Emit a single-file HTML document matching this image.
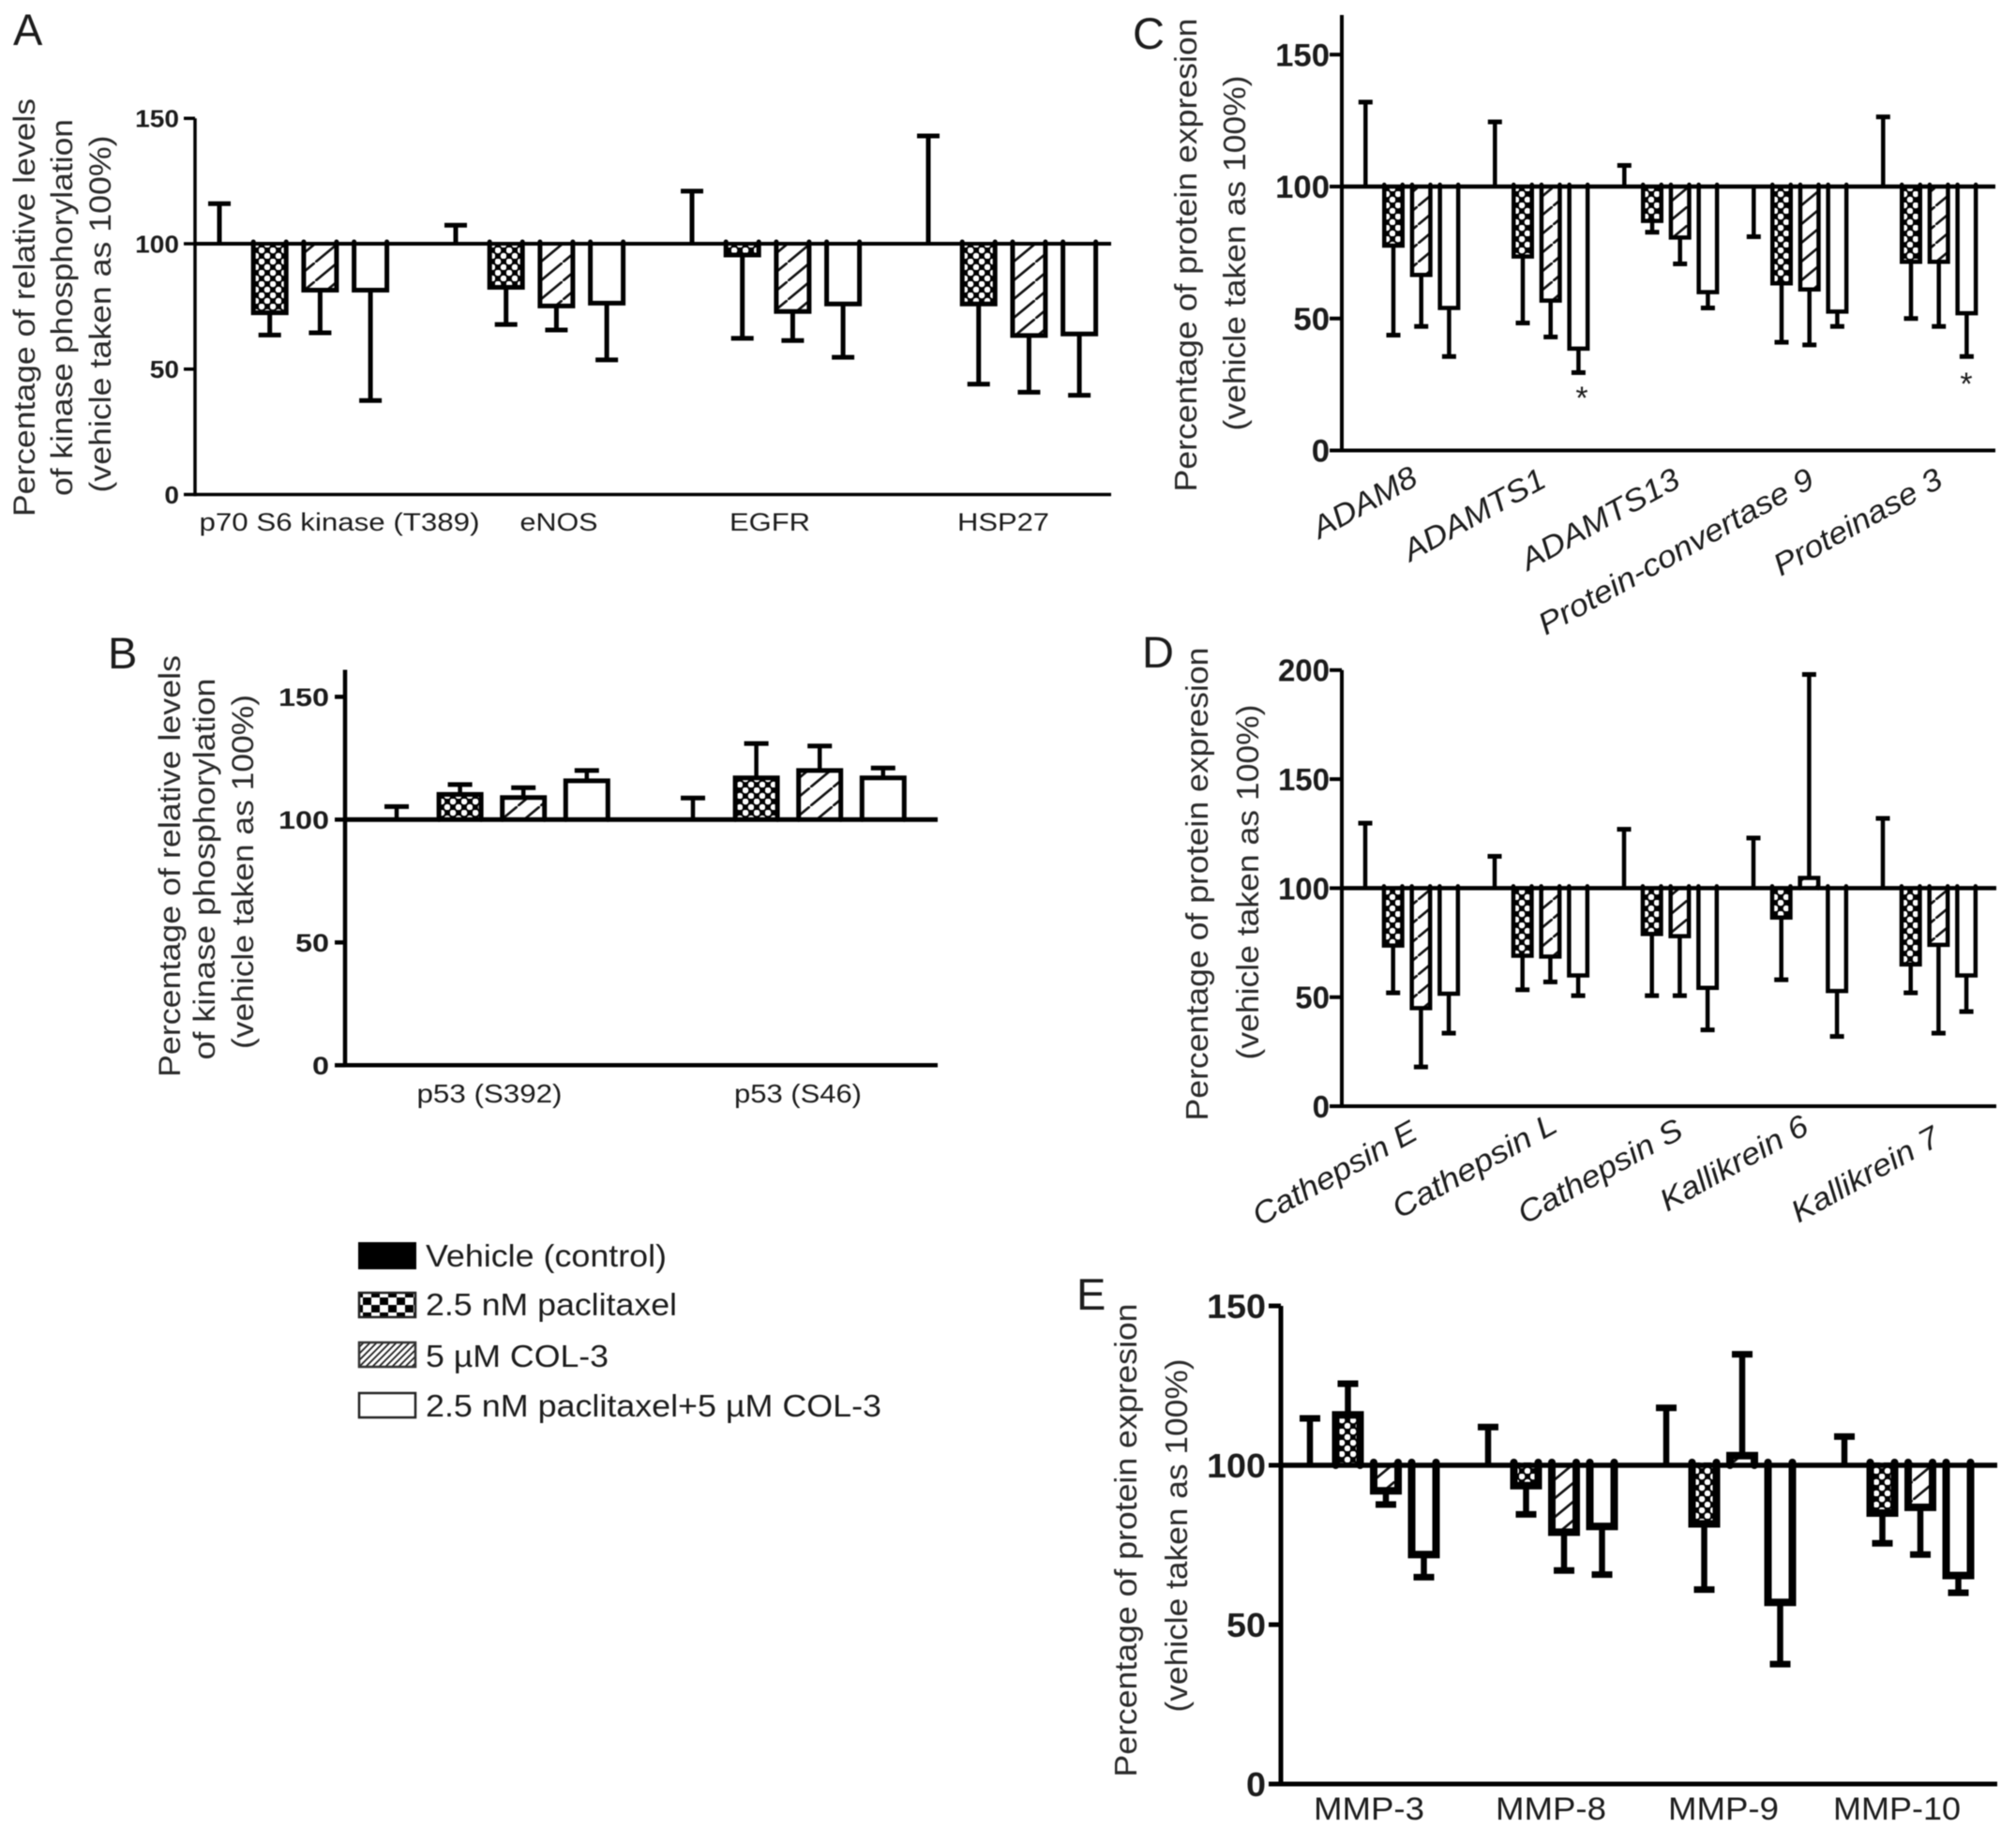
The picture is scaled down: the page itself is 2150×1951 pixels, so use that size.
<!DOCTYPE html>
<html lang="en">
<head>
<meta charset="utf-8">
<title>Protein expression and kinase phosphorylation bar charts</title>
<style>
html,body{margin:0;padding:0;background:#fff;width:2150px;height:1951px;overflow:hidden}
svg{display:block;filter:blur(0.6px)}
text{font-family:"Liberation Sans",Arial,sans-serif;fill:#1c1c1c}
.t{fill:#2a2a2a}
.letter{font-size:47px;fill:#1c1c1c}
</style>
</head>
<body>
<svg id="figure" width="2150" height="1951" viewBox="0 0 2150 1951" xmlns="http://www.w3.org/2000/svg">
<defs>
<pattern id="pat-check" width="12" height="12" patternUnits="userSpaceOnUse"><rect width="12" height="12" fill="#000"/><circle cx="3" cy="3" r="3.3" fill="#fff"/><circle cx="9" cy="9" r="3.3" fill="#fff"/></pattern>
<pattern id="pat-hatch" width="24" height="20" patternUnits="userSpaceOnUse"><rect width="24" height="20" fill="#fff"/><path d="M-2.4 22L26.4 -2" stroke="#111" stroke-width="2.6" fill="none"/></pattern>
<pattern id="pat-legend-check" width="18" height="16" patternUnits="userSpaceOnUse"><rect width="18" height="16" fill="#fff"/><rect width="9" height="8" fill="#000"/><rect x="9" y="8" width="9" height="8" fill="#000"/></pattern>
<pattern id="pat-legend-hatch" width="7" height="7" patternUnits="userSpaceOnUse"><rect width="7" height="7" fill="#fff"/><path d="M-1 8L8 -1M-3 3L3 -3M4 10L10 4" stroke="#222" stroke-width="1.8" fill="none"/></pattern>
</defs>

<rect width="2150" height="1951" fill="#fff"/>

<text class="letter" x="14" y="48">A</text>
<text class="letter" x="115" y="713">B</text>
<text class="letter" x="1208" y="52">C</text>
<text class="letter" x="1218" y="712">D</text>
<text class="letter" x="1148" y="1397">E</text>

<g font-size="32">
<text class="t" transform="translate(37,328) rotate(-90)" text-anchor="middle" textLength="446" lengthAdjust="spacingAndGlyphs">Percentage of relative levels</text>
<text class="t" transform="translate(77,328) rotate(-90)" text-anchor="middle" textLength="402" lengthAdjust="spacingAndGlyphs">of kinase phosphorylation</text>
<text class="t" transform="translate(118,335) rotate(-90)" text-anchor="middle" textLength="381" lengthAdjust="spacingAndGlyphs">(vehicle taken as 100%)</text>
</g>
<g font-size="32">
<text class="t" transform="translate(192,924) rotate(-90)" text-anchor="middle" textLength="450" lengthAdjust="spacingAndGlyphs">Percentage of relative levels</text>
<text class="t" transform="translate(229,927) rotate(-90)" text-anchor="middle" textLength="407" lengthAdjust="spacingAndGlyphs">of kinase phosphorylation</text>
<text class="t" transform="translate(270,930) rotate(-90)" text-anchor="middle" textLength="378" lengthAdjust="spacingAndGlyphs">(vehicle taken as 100%)</text>
</g>
<g font-size="33">
<text class="t" transform="translate(1276,272) rotate(-90)" text-anchor="middle" textLength="505" lengthAdjust="spacingAndGlyphs">Percentage of protein expresion</text>
<text class="t" transform="translate(1328,270) rotate(-90)" text-anchor="middle" textLength="379" lengthAdjust="spacingAndGlyphs">(vehicle taken as 100%)</text>
</g>
<g font-size="33">
<text class="t" transform="translate(1288,943) rotate(-90)" text-anchor="middle" textLength="505" lengthAdjust="spacingAndGlyphs">Percentage of protein expresion</text>
<text class="t" transform="translate(1342,941) rotate(-90)" text-anchor="middle" textLength="379" lengthAdjust="spacingAndGlyphs">(vehicle taken as 100%)</text>
</g>
<g font-size="33">
<text class="t" transform="translate(1212,1643) rotate(-90)" text-anchor="middle" textLength="505" lengthAdjust="spacingAndGlyphs">Percentage of protein expresion</text>
<text class="t" transform="translate(1266,1638) rotate(-90)" text-anchor="middle" textLength="377" lengthAdjust="spacingAndGlyphs">(vehicle taken as 100%)</text>
</g>

<g font-size="27">
<text x="362" y="566" text-anchor="middle" textLength="299" lengthAdjust="spacingAndGlyphs">p70 S6 kinase (T389)</text>
<text x="596" y="566" text-anchor="middle" textLength="83" lengthAdjust="spacingAndGlyphs">eNOS</text>
<text x="821" y="566" text-anchor="middle" textLength="86" lengthAdjust="spacingAndGlyphs">EGFR</text>
<text x="1070" y="566" text-anchor="middle" textLength="98" lengthAdjust="spacingAndGlyphs">HSP27</text>
</g>
<g font-size="28">
<text x="522" y="1176" text-anchor="middle" textLength="155" lengthAdjust="spacingAndGlyphs">p53 (S392)</text>
<text x="851" y="1176" text-anchor="middle" textLength="136" lengthAdjust="spacingAndGlyphs">p53 (S46)</text>
</g>
<g font-size="33" font-style="italic">
<text transform="translate(1514,516) rotate(-29)" text-anchor="end" textLength="122" lengthAdjust="spacingAndGlyphs">ADAM8</text>
<text transform="translate(1651,518) rotate(-29)" text-anchor="end" textLength="168" lengthAdjust="spacingAndGlyphs">ADAMTS1</text>
<text transform="translate(1794,518) rotate(-29)" text-anchor="end" textLength="188" lengthAdjust="spacingAndGlyphs">ADAMTS13</text>
<text transform="translate(1937,518) rotate(-29)" text-anchor="end" textLength="330" lengthAdjust="spacingAndGlyphs">Protein-convertase 9</text>
<text transform="translate(2074,518) rotate(-29)" text-anchor="end" textLength="200" lengthAdjust="spacingAndGlyphs">Proteinase 3</text>
</g>
<g font-size="33" font-style="italic">
<text transform="translate(1514,1214) rotate(-29)" text-anchor="end" textLength="195" lengthAdjust="spacingAndGlyphs">Cathepsin E</text>
<text transform="translate(1663,1206) rotate(-29)" text-anchor="end" textLength="195" lengthAdjust="spacingAndGlyphs">Cathepsin L</text>
<text transform="translate(1797,1212) rotate(-29)" text-anchor="end" textLength="195" lengthAdjust="spacingAndGlyphs">Cathepsin S</text>
<text transform="translate(1931,1208) rotate(-29)" text-anchor="end" textLength="175" lengthAdjust="spacingAndGlyphs">Kallikrein 6</text>
<text transform="translate(2071,1220) rotate(-29)" text-anchor="end" textLength="175" lengthAdjust="spacingAndGlyphs">Kallikrein 7</text>
</g>
<g font-size="34">
<text x="1460" y="1941" text-anchor="middle" textLength="118" lengthAdjust="spacingAndGlyphs">MMP-3</text>
<text x="1654" y="1941" text-anchor="middle" textLength="118" lengthAdjust="spacingAndGlyphs">MMP-8</text>
<text x="1838" y="1941" text-anchor="middle" textLength="118" lengthAdjust="spacingAndGlyphs">MMP-9</text>
<text x="2023" y="1941" text-anchor="middle" textLength="136" lengthAdjust="spacingAndGlyphs">MMP-10</text>
</g>

<text x="1687" y="436" font-size="34" text-anchor="middle">*</text>
<text x="2097" y="421" font-size="34" text-anchor="middle">*</text>

<g>
<g>
<rect x="383" y="1326" width="60" height="27" fill="#000" stroke="#000" stroke-width="2"/>
<text x="454" y="1351" font-size="33" textLength="257" lengthAdjust="spacingAndGlyphs">Vehicle (control)</text>
</g>
<g>
<rect x="383" y="1379" width="60" height="26" fill="url(#pat-legend-check)" stroke="#222" stroke-width="2.5"/>
<text x="454" y="1403" font-size="33" textLength="268" lengthAdjust="spacingAndGlyphs">2.5 nM paclitaxel</text>
</g>
<g>
<rect x="383" y="1432" width="60" height="26" fill="url(#pat-legend-hatch)" stroke="#333" stroke-width="2.5"/>
<text x="454" y="1458" font-size="33" textLength="195" lengthAdjust="spacingAndGlyphs">5 µM COL-3</text>
</g>
<g>
<rect x="383" y="1486" width="60" height="26" fill="#fff" stroke="#222" stroke-width="2.5"/>
<text x="454" y="1511" font-size="33" textLength="486" lengthAdjust="spacingAndGlyphs">2.5 nM paclitaxel+5 µM COL-3</text>
</g>
</g>
</svg>

<script>
const seriesNames = ['vehicle', 'paclitaxel', 'col3', 'combination'];

const panelACategories = ['p70-s6-kinase', 'enos', 'egfr', 'hsp27'];
const panelATicks = [0, 50, 100, 150];
const panelAVehicleMeans = [100, 100, 100, 100];
const panelAVehicleErrors = [116, 107.4, 121, 143];
const panelAPaclitaxelMeans = [72.5, 82.6, 95.5, 76];
const panelAPaclitaxelErrors = [63.6, 67.8, 62.3, 44];
const panelACol3Means = [81.5, 75.2, 73, 63.4];
const panelACol3Errors = [64.5, 65.6, 61.4, 40.8];
const panelAComboMeans = [81.5, 76.3, 76, 64];
const panelAComboErrors = [37.5, 53.7, 54.7, 39.6];

const panelBCategories = ['p53-s392', 'p53-s46'];
const panelBTicks = [0, 50, 100, 150];
const panelBVehicleMeans = [100, 100];
const panelBVehicleErrors = [105.3, 108.8];
const panelBPaclitaxelMeans = [110.3, 117];
const panelBPaclitaxelErrors = [114.3, 131];
const panelBCol3Means = [109, 120];
const panelBCol3Errors = [113, 130];
const panelBComboMeans = [115.8, 117];
const panelBComboErrors = [120, 121];

const panelCCategories = ['adam8', 'adamts1', 'adamts13', 'protein-convertase-9', 'proteinase-3'];
const panelCTicks = [0, 50, 100, 150];
const panelCVehicleMeans = [100, 100, 100, 100, 100];
const panelCVehicleErrors = [132, 124.5, 108, 81, 126.4];
const panelCPaclitaxelMeans = [77.6, 73.5, 87, 63.3, 71.5];
const panelCPaclitaxelErrors = [43.7, 48.3, 82.7, 41, 50];
const panelCCol3Means = [66.5, 56.8, 80.7, 61, 71.5];
const panelCCol3Errors = [47, 43, 70.7, 40, 47];
const panelCComboMeans = [54, 38.6, 60, 52.6, 52];
const panelCComboErrors = [35.6, 29.5, 54, 47, 35.6];

const panelDCategories = ['cathepsin-e', 'cathepsin-l', 'cathepsin-s', 'kallikrein-6', 'kallikrein-7'];
const panelDTicks = [0, 50, 100, 150, 200];
const panelDVehicleMeans = [100, 100, 100, 100, 100];
const panelDVehicleErrors = [129.8, 114.6, 127, 123, 132];
const panelDPaclitaxelMeans = [73.7, 69, 79, 86.5, 65];
const panelDPaclitaxelErrors = [52, 53.4, 50.7, 58, 52];
const panelDCol3Means = [45, 68.6, 78, 104.7, 74];
const panelDCol3Errors = [18, 57, 50.7, 198, 33.5];
const panelDComboMeans = [51.6, 60, 54.3, 52.8, 60];
const panelDComboErrors = [33.5, 50.7, 35, 32, 43.4];

const panelECategories = ['mmp-3', 'mmp-8', 'mmp-9', 'mmp-10'];
const panelETicks = [0, 50, 100, 150];
const panelEVehicleMeans = [100, 100, 100, 100];
const panelEVehicleErrors = [114.7, 112, 118, 109];
const panelEPaclitaxelMeans = [115.8, 93.6, 81.6, 85];
const panelEPaclitaxelErrors = [125.6, 84.6, 61, 75.5];
const panelECol3Means = [92, 79, 103, 86.8];
const panelECol3Errors = [87.7, 67, 134.8, 72];
const panelEComboMeans = [72, 80.8, 57, 65.4];
const panelEComboErrors = [64.9, 65.7, 37.6, 60];

const NS = 'http://www.w3.org/2000/svg';
const figure = document.getElementById('figure');
const fills = ['#000', 'url(#pat-check)', 'url(#pat-hatch)', '#fff'];

function make(parent, tag, attrs, textValue) {
  const node = document.createElementNS(NS, tag);
  for (const key in attrs) node.setAttribute(key, attrs[key]);
  if (textValue !== undefined) node.textContent = textValue;
  parent.appendChild(node);
  return node;
}

function drawPanel(p) {
  const y = function (v) { return p.yZero - v * p.unitPx; };
  const x = function (c, s) { return p.firstX + c * p.groupStep + s * p.slot; };
  const group = make(figure, 'g', {});
  
  

  p.categories.forEach(function (cat, c) {
    p.series.forEach(function (series, s) {
      const cx = x(c, s);
      const mean = series.means[c];
      const errorEnd = series.errors[c];
      const half = p.barW / 2;
      const startY = mean < 100 ? y(100) - p.poke : y(100);
      const errLine = make(group, 'line', { x1: cx, x2: cx, y1: y(mean), y2: y(errorEnd), stroke: '#000', 'stroke-width': p.errStroke });
      
      
      const cap = make(group, 'line', { x1: cx - p.capW / 2, x2: cx + p.capW / 2, y1: y(errorEnd), y2: y(errorEnd), stroke: '#000', 'stroke-width': p.capStroke });
      
      
      const bar = make(group, 'path', {
        d: 'M' + (cx - half) + ' ' + startY + 'V' + y(mean) + 'H' + (cx + half) + 'V' + startY,
        fill: fills[s], stroke: '#000', 'stroke-width': mean === 100 ? 0 : p.barStroke, 'stroke-linecap': 'round', 'stroke-linejoin': 'miter'
      });
      
      
    });
  });

  const baseline = make(group, 'line', { x1: p.axisX, x2: p.rightX, y1: y(100), y2: y(100), stroke: '#000', 'stroke-width': p.axisStroke + 0.5 });
  
  
  const xAxis = make(group, 'line', { x1: p.axisX, x2: p.rightX, y1: y(0), y2: y(0), stroke: '#000', 'stroke-width': p.axisStroke });
  
  
  const yAxis = make(group, 'line', { x1: p.axisX, x2: p.axisX, y1: y(p.axisTop), y2: y(0) + p.axisStroke / 2, stroke: '#000', 'stroke-width': p.axisStroke });
  
  

  p.ticks.forEach(function (t) {
    const tick = make(group, 'line', { x1: p.axisX - p.tickLen, x2: p.axisX, y1: y(t), y2: y(t), stroke: '#000', 'stroke-width': p.axisStroke });
    
    
    const label = make(group, 'text', {
      transform: 'translate(' + p.tickLabelX + ',' + (y(t) + p.tickFont * 0.36) + ') scale(' + p.tickScale + ',1)',
      'text-anchor': 'end', 'font-size': p.tickFont, 'font-weight': 'bold'
    }, String(t));
    
    
  });
}

drawPanel({
  id: 'a', categories: panelACategories, ticks: panelATicks,
  series: [
    { means: panelAVehicleMeans, errors: panelAVehicleErrors },
    { means: panelAPaclitaxelMeans, errors: panelAPaclitaxelErrors },
    { means: panelACol3Means, errors: panelACol3Errors },
    { means: panelAComboMeans, errors: panelAComboErrors }
  ],
  yZero: 527.5, unitPx: 2.675, axisX: 208, rightX: 1185, axisTop: 150, tickLen: 12,
  firstX: 234, slot: 53.7, groupStep: 252, barW: 35, capW: 24, poke: 2,
  barStroke: 5, errStroke: 5, capStroke: 5, axisStroke: 3.5,
  tickLabelX: 191, tickFont: 26, tickScale: 1.08
});
drawPanel({
  id: 'b', categories: panelBCategories, ticks: panelBTicks,
  series: [
    { means: panelBVehicleMeans, errors: panelBVehicleErrors },
    { means: panelBPaclitaxelMeans, errors: panelBPaclitaxelErrors },
    { means: panelBCol3Means, errors: panelBCol3Errors },
    { means: panelBComboMeans, errors: panelBComboErrors }
  ],
  yZero: 1136.3, unitPx: 2.62, axisX: 368, rightX: 1000, axisTop: 161, tickLen: 11,
  firstX: 423, slot: 67.6, groupStep: 316, barW: 45, capW: 26, poke: 0,
  barStroke: 5, errStroke: 4.5, capStroke: 5, axisStroke: 4.5,
  tickLabelX: 351, tickFont: 27, tickScale: 1.2
});
drawPanel({
  id: 'c', categories: panelCCategories, ticks: panelCTicks,
  series: [
    { means: panelCVehicleMeans, errors: panelCVehicleErrors },
    { means: panelCPaclitaxelMeans, errors: panelCPaclitaxelErrors },
    { means: panelCCol3Means, errors: panelCCol3Errors },
    { means: panelCComboMeans, errors: panelCComboErrors }
  ],
  yZero: 480.5, unitPx: 2.815, axisX: 1431, rightX: 2128, axisTop: 165, tickLen: 13,
  firstX: 1456.3, slot: 29.7, groupStep: 138, barW: 19.5, capW: 15, poke: 2,
  barStroke: 4.5, errStroke: 4.5, capStroke: 5, axisStroke: 4,
  tickLabelX: 1418, tickFont: 34, tickScale: 1.02
});
drawPanel({
  id: 'd', categories: panelDCategories, ticks: panelDTicks,
  series: [
    { means: panelDVehicleMeans, errors: panelDVehicleErrors },
    { means: panelDPaclitaxelMeans, errors: panelDPaclitaxelErrors },
    { means: panelDCol3Means, errors: panelDCol3Errors },
    { means: panelDComboMeans, errors: panelDComboErrors }
  ],
  yZero: 1180, unitPx: 2.326, axisX: 1431, rightX: 2129, axisTop: 200, tickLen: 13,
  firstX: 1456, slot: 29.7, groupStep: 138, barW: 19.5, capW: 15, poke: 2,
  barStroke: 4.5, errStroke: 4.5, capStroke: 5, axisStroke: 4,
  tickLabelX: 1418, tickFont: 33, tickScale: 1
});
drawPanel({
  id: 'e', categories: panelECategories, ticks: panelETicks,
  series: [
    { means: panelEVehicleMeans, errors: panelEVehicleErrors },
    { means: panelEPaclitaxelMeans, errors: panelEPaclitaxelErrors },
    { means: panelECol3Means, errors: panelECol3Errors },
    { means: panelEComboMeans, errors: panelEComboErrors }
  ],
  yZero: 1903, unitPx: 3.4, axisX: 1366, rightX: 2130, axisTop: 150, tickLen: 13,
  firstX: 1397, slot: 40.5, groupStep: 190, barW: 26, capW: 22, poke: 3,
  barStroke: 8, errStroke: 6.5, capStroke: 7, axisStroke: 5,
  tickLabelX: 1350, tickFont: 36, tickScale: 1.05
});
</script>
</body>
</html>
